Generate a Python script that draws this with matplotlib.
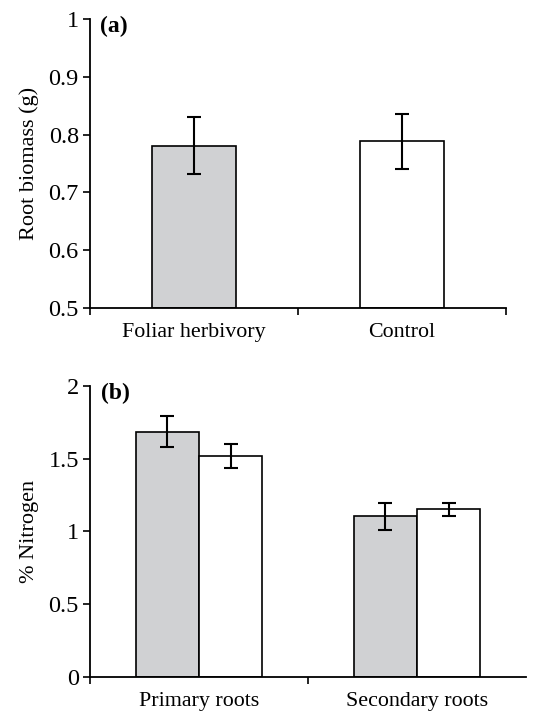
import numpy as np
import matplotlib
matplotlib.use("Agg")
import matplotlib.pyplot as plt

plt.rcParams["font.family"] = ["Liberation Serif", "DejaVu Serif"]

# -------------------------
# Data
# -------------------------

# panel (a): root biomass
biomass_groups = ["Foliar herbivory", "Control"]
biomass_mean = [0.781, 0.788]
biomass_err = [0.050, 0.048]

# panel (b): % nitrogen
root_types = ["Primary roots", "Secondary roots"]
nitrogen_herb = [1.686, 1.104]
nitrogen_herb_err = [0.106, 0.092]
nitrogen_ctrl = [1.521, 1.152]
nitrogen_ctrl_err = [0.082, 0.043]

gray = "#d0d1d3"

fig = plt.figure(figsize=(5.34, 7.13), dpi=100)

ax1 = fig.add_axes([0.1685, 0.568, 0.779, 0.4055])
ax2 = fig.add_axes([0.1685, 0.0509, 0.8165, 0.4077])

def style(ax):
    ax.spines["top"].set_visible(False)
    ax.spines["right"].set_visible(False)
    for s in ["left", "bottom"]:
        ax.spines[s].set_linewidth(1.3)
    ax.tick_params(axis="y", direction="out", length=5, width=1.2, labelsize=17.5, pad=3)
    ax.tick_params(axis="x", which="major", length=0, labelsize=15.8, pad=11)
    ax.tick_params(axis="x", which="minor", direction="out", length=5, width=1.2)

# -------------------------
# Panel (a)
# -------------------------

x = np.arange(len(biomass_groups))
ax1.bar(x, np.array(biomass_mean) - 0.5, bottom=0.5, width=0.40,
        color=[gray, "white"], edgecolor="black", linewidth=1.2)
ax1.errorbar(x, biomass_mean, yerr=biomass_err, fmt="none",
             ecolor="black", elinewidth=1.5, capsize=5, capthick=1.5)
ax1.set_xlim(-0.5, 1.5)
ax1.set_ylim(0.5, 1.0)
ax1.set_yticks([0.5, 0.6, 0.7, 0.8, 0.9, 1.0])
ax1.set_yticklabels(["0.5", "0.6", "0.7", "0.8", "0.9", "1"])
ax1.set_xticks(x)
ax1.set_xticklabels(biomass_groups)
ax1.set_xticks([-0.5, 0.5, 1.5], minor=True)
ax1.set_ylabel("Root biomass (g)", fontsize=16, labelpad=7)
style(ax1)
ax1.text(0.025, 0.975, "(a)", transform=ax1.transAxes, fontsize=17,
         fontweight="bold", va="center", ha="left")

# -------------------------
# Panel (b)
# -------------------------

x = np.arange(len(root_types))
w = 0.29
ax2.bar(x - w / 2, nitrogen_herb, width=w, color=gray,
        edgecolor="black", linewidth=1.2)
ax2.bar(x + w / 2, nitrogen_ctrl, width=w, color="white",
        edgecolor="black", linewidth=1.2)
ax2.errorbar(x - w / 2, nitrogen_herb, yerr=nitrogen_herb_err, fmt="none",
             ecolor="black", elinewidth=1.5, capsize=5, capthick=1.5)
ax2.errorbar(x + w / 2, nitrogen_ctrl, yerr=nitrogen_ctrl_err, fmt="none",
             ecolor="black", elinewidth=1.5, capsize=5, capthick=1.5)
ax2.set_xlim(-0.5, 1.5)
ax2.set_ylim(0, 2)
ax2.set_yticks([0, 0.5, 1, 1.5, 2])
ax2.set_yticklabels(["0", "0.5", "1", "1.5", "2"])
ax2.set_xticks(x)
ax2.set_xticklabels(root_types)
ax2.set_xticks([-0.5, 0.5], minor=True)
ax2.set_ylabel("% Nitrogen", fontsize=16, labelpad=7)
style(ax2)
ax2.text(0.025, 0.975, "(b)", transform=ax2.transAxes, fontsize=17,
         fontweight="bold", va="center", ha="left")

fig.savefig("out.png", dpi=100)
